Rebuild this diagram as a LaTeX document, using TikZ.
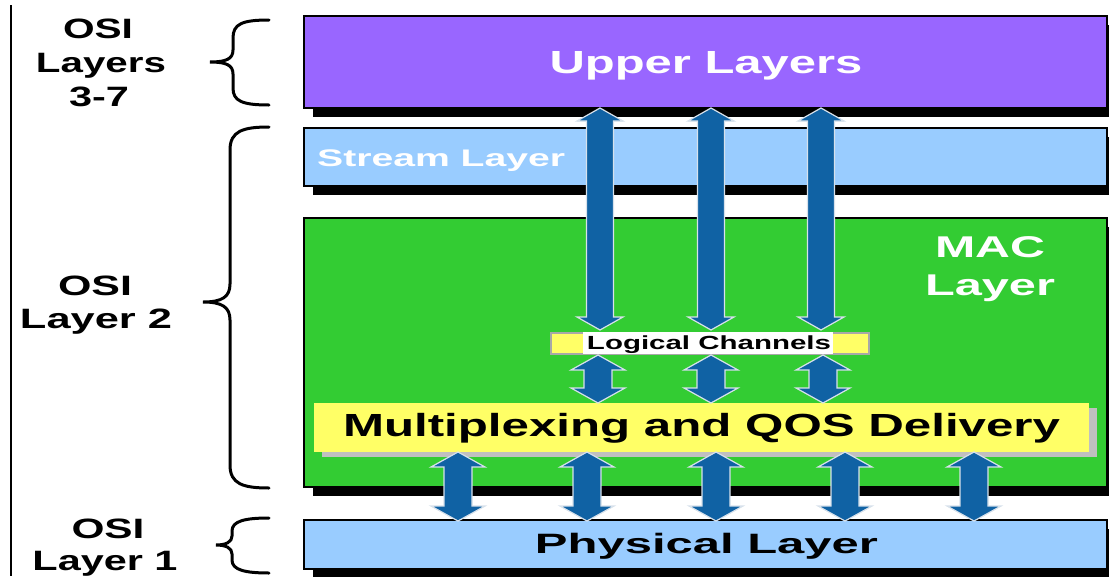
\documentclass[tikz,border=0pt]{standalone}
\usepackage{fontspec}
\setmainfont{Liberation Sans}
\usetikzlibrary{calc,shadows}

\definecolor{upperpurple}{HTML}{9966FF}
\definecolor{layerblue}{HTML}{99CCFF}
\definecolor{macgreen}{HTML}{33CC33}
\definecolor{boxyellow}{HTML}{FFFF66}
\definecolor{arrowblue}{RGB}{16,98,164}
\definecolor{arrowedge}{RGB}{215,225,235}
\definecolor{softgrey}{HTML}{C0C0C0}
\definecolor{rimgrey}{HTML}{A8A8A8}

% stretch a label to a given width, keeping its natural height
\newcommand\fitw[2]{\resizebox{#1}{\height}{#2}}
\newcommand\fsz[1]{\fontsize{#1}{#1}\selectfont\bfseries}

\begin{document}
\begin{tikzpicture}[x=1pt,y=-1pt,
  layerbox/.style={draw=black, line width=1.2pt, inner sep=0pt, outer sep=0pt,
    anchor=north west,
    general shadow={fill=black, shadow xshift=9pt, shadow yshift=-9pt}},
  lbl/.style={inner sep=0pt, anchor=base},
  bracepen/.style={draw=black, line width=3pt, line cap=round},
  biarrow/.style n args={3}{fill=arrowblue, draw=arrowedge, line width=1.2pt,
    line join=miter,
    to path={let \p1=(\tikztostart), \p2=(\tikztotarget) in
      (\x1,\y1) -- ({\x1+#2},{\y1-#3}) -- ({\x1+#1},{\y1-#3})
      -- ({\x1+#1},{\y2+#3}) -- ({\x1+#2},{\y2+#3}) -- (\x1,\y2)
      -- ({\x1-#2},{\y2+#3}) -- ({\x1-#1},{\y2+#3})
      -- ({\x1-#1},{\y1-#3}) -- ({\x1-#2},{\y1-#3}) -- cycle}},
  longarrow/.style={biarrow={13.5pt}{23pt}{13pt}},
  shortarrow/.style={biarrow={14pt}{27pt}{15pt}},
]
\useasboundingbox (0,0) rectangle (1109,576);
\clip (0,0) rectangle (1109,576);

% left rule
\draw[line width=2pt] (11,5) -- (11,576);

% layer boxes
\node[layerbox, fill=upperpurple, minimum width=803pt, minimum height=92pt] (upper) at (304,16) {};
\node[layerbox, fill=layerblue, minimum width=803pt, minimum height=58pt] (stream) at (304,128) {};
\node[layerbox, fill=macgreen, minimum width=803pt, minimum height=269pt] (mac) at (304,218) {};
\node[layerbox, fill=layerblue, minimum width=803pt, minimum height=49pt] (phys) at (304,520) {};

% multiplexing bar and logical channel strip inside the MAC layer
\node[fill=boxyellow, inner sep=0pt, anchor=north west, minimum width=775pt, minimum height=49pt,
  general shadow={fill=softgrey, shadow xshift=8pt, shadow yshift=-5pt}] (mux) at (314,403) {};
\node[draw=rimgrey, line width=2pt, fill=boxyellow, inner sep=0pt, anchor=north west,
  minimum width=318pt, minimum height=21pt] (lchan) at (550,332) {};
\node[fill=white, inner sep=0pt, minimum width=250pt, minimum height=22pt] (lmask) at (708,343) {};

% texts in the boxes
\node[lbl, text=white, font=\fsz{32}] (uptxt) at (706,73) {\fitw{313pt}{Upper Layers}};
\node[lbl, text=white, font=\fsz{24}, anchor=base west] (sttxt) at (317,166) {\fitw{248pt}{Stream Layer}};
\node[lbl, text=white, font=\fsz{30}] (mactxt1) at (990,257) {\fitw{110pt}{MAC}};
\node[lbl, text=white, font=\fsz{30}] (mactxt2) at (990,295) {\fitw{130pt}{Layer}};
\node[lbl, font=\fsz{19}] (lctxt) at (709,349) {\fitw{244pt}{Logical Channels}};
\node[lbl, font=\fsz{32}] (muxtxt) at (701.5,436) {\fitw{717pt}{Multiplexing and QOS Delivery}};
\node[lbl, font=\fsz{28}] (phtxt) at (706.5,553) {\fitw{343pt}{Physical Layer}};

% OSI labels
\node[lbl, font=\fsz{28}] (o37a) at (98,38) {\fitw{70pt}{OSI}};
\node[lbl, font=\fsz{28}] (o37b) at (101,72) {\fitw{130pt}{Layers}};
\node[lbl, font=\fsz{28}] (o37c) at (99,106) {\fitw{60pt}{3-7}};
\node[lbl, font=\fsz{28}] (o2a) at (95,295) {\fitw{74pt}{OSI}};
\node[lbl, font=\fsz{28}] (o2b) at (96,328) {\fitw{152pt}{Layer 2}};
\node[lbl, font=\fsz{28}] (o1a) at (108,538) {\fitw{73pt}{OSI}};
\node[lbl, font=\fsz{28}] (o1b) at (105,570) {\fitw{145pt}{Layer 1}};

% braces
\draw[bracepen] (269,20) .. controls (242,20) and (233,24) .. (233,38) -- (233,50)
  .. controls (233,59) and (226,62) .. (210,62) .. controls (226,62) and (233,65) .. (233,74)
  -- (233,88) .. controls (233,101) and (242,105) .. (269,105);
\draw[bracepen] (269,127) .. controls (243,127) and (230,131) .. (230,150) -- (230,284)
  .. controls (230,297) and (222,302) .. (203,302) .. controls (222,302) and (230,307) .. (230,320)
  -- (230,465) .. controls (230,484) and (243,488) .. (269,488);
\draw[bracepen] (269,518) .. controls (245,518) and (232,521) .. (232,531) -- (232,536)
  .. controls (232,542) and (226,545) .. (216,545) .. controls (226,545) and (232,548) .. (232,554)
  -- (232,560) .. controls (232,570) and (245,573) .. (269,573);

% arrow end points
\coordinate (ut1) at (600,108);  \coordinate (lb1) at (600,330);
\coordinate (ut2) at (711,108);  \coordinate (lb2) at (711,330);
\coordinate (ut3) at (821,108);  \coordinate (lb3) at (821,330);
\coordinate (lt1) at (598,355);  \coordinate (mt1) at (598,403);
\coordinate (lt2) at (711,355);  \coordinate (mt2) at (711,403);
\coordinate (lt3) at (823,355);  \coordinate (mt3) at (823,403);
\coordinate (mb1) at (458,452);  \coordinate (pt1) at (458,521);
\coordinate (mb2) at (587,452);  \coordinate (pt2) at (587,521);
\coordinate (mb3) at (716,452);  \coordinate (pt3) at (716,521);
\coordinate (mb4) at (845,452);  \coordinate (pt4) at (845,521);
\coordinate (mb5) at (974,452);  \coordinate (pt5) at (974,521);

% upper layers <-> logical channels
\foreach \i in {1,2,3} { \path[longarrow] (ut\i) to (lb\i); }
% logical channels <-> multiplexing
\foreach \i in {1,2,3} { \path[shortarrow] (lt\i) to (mt\i); }
% multiplexing <-> physical layer
\foreach \i in {1,...,5} { \path[shortarrow] (mb\i) to (pt\i); }
\end{tikzpicture}
\end{document}
